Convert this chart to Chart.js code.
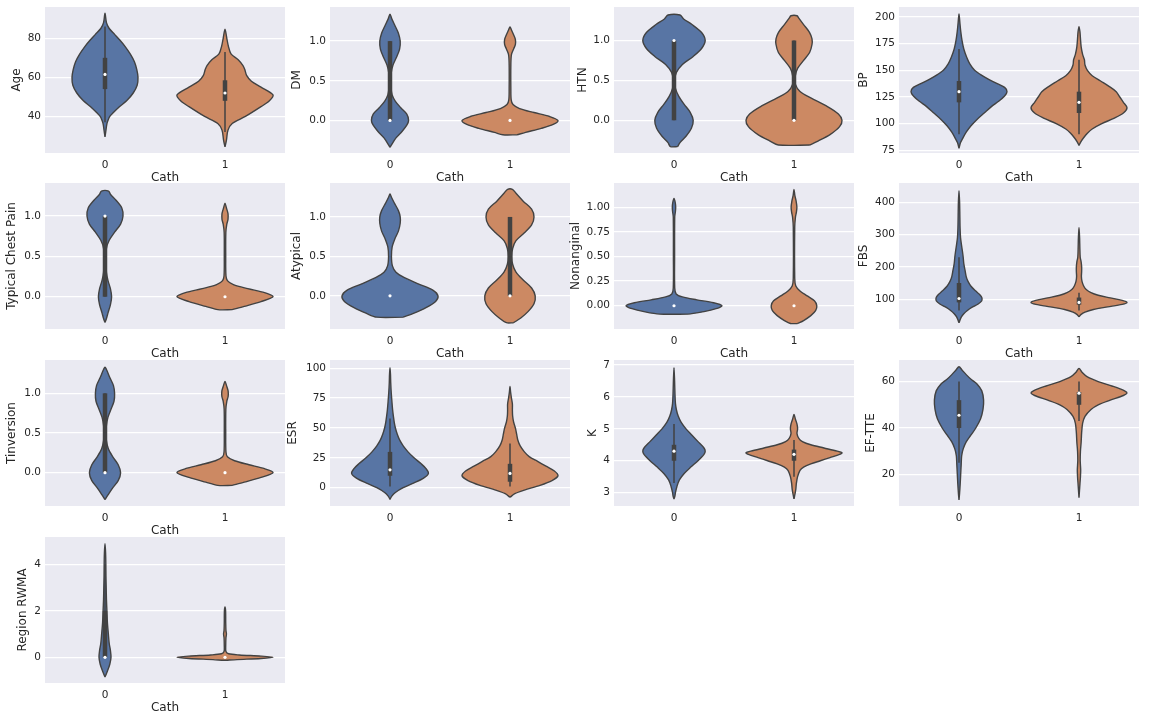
<!DOCTYPE html>
<html>
<head>
<meta charset="utf-8">
<script src="https://cdn.jsdelivr.net/npm/chart.js@4/dist/chart.umd.min.js"></script>
<style>
  body { margin: 0; background: #fff; width: 1157px; height: 721px; position: relative; overflow: hidden; }
  canvas { position: absolute; }
</style>
</head>
<body>
<script>
// categories on the x axis (Cath)
const cathValues = [0, 1];
const cathLabels = ['0', '1'];

// y tick values / labels
const ageTicks = [40, 60, 80];
const ageTickLabels = ['40', '60', '80'];
const binTicks = [0, 0.5, 1];
const binTickLabels = ['0.0', '0.5', '1.0'];
const quarterTicks = [0, 0.25, 0.5, 0.75, 1];
const quarterTickLabels = ['0.00', '0.25', '0.50', '0.75', '1.00'];
const bpTicks = [75, 100, 125, 150, 175, 200];
const bpTickLabels = ['75', '100', '125', '150', '175', '200'];
const fbsTicks = [100, 200, 300, 400];
const fbsTickLabels = ['100', '200', '300', '400'];
const esrTicks = [0, 25, 50, 75, 100];
const esrTickLabels = ['0', '25', '50', '75', '100'];
const kTicks = [3, 4, 5, 6, 7];
const kTickLabels = ['3', '4', '5', '6', '7'];
const efTicks = [20, 40, 60];
const efTickLabels = ['20', '40', '60'];
const rwTicks = [0, 2, 4];
const rwTickLabels = ['0', '2', '4'];

// violin outlines: [value, half width] from bottom to top
// inner boxes: [whisker low, q1, median, q3, whisker high]
const ageV0 = [[29.5,0],[33,0.008],[36,0.015],[38,0.025],[40,0.04],[42,0.07],[45,0.12],[48,0.18],[52,0.235],[56,0.268],[60,0.275],[64,0.265],[68,0.245],[72,0.21],[76,0.165],[79,0.125],[82,0.08],[85,0.035],[88,0.012],[92.8,0]];
const ageV1 = [[24.4,0],[27.9,0.012],[33,0.025],[36.4,0.06],[40,0.17],[45,0.3],[48,0.37],[51,0.4],[55,0.3],[58,0.22],[61,0.18],[64,0.165],[66,0.15],[69,0.11],[72,0.05],[76,0.028],[80,0.015],[84.6,0]];
const ageBox0 = [37, 54, 61.5, 70, 86];
const ageBox1 = [32, 48, 52, 58.5, 73];

const dmV0 = [[-0.34,0],[-0.3,0.015],[-0.22,0.05],[-0.14,0.1],[-0.06,0.14],[0,0.155],[0.08,0.14],[0.16,0.09],[0.24,0.045],[0.32,0.018],[0.42,0.008],[0.5,0.006],[0.6,0.01],[0.7,0.025],[0.8,0.055],[0.9,0.08],[1.0,0.085],[1.1,0.07],[1.2,0.04],[1.28,0.015],[1.34,0]];
const dmV1 = [[-0.18,0.06],[-0.15,0.13],[-0.1,0.26],[-0.05,0.36],[0,0.4],[0.05,0.33],[0.1,0.2],[0.15,0.08],[0.2,0.025],[0.26,0.01],[0.4,0.007],[0.7,0.007],[0.83,0.012],[0.9,0.03],[0.96,0.045],[1.02,0.045],[1.08,0.03],[1.14,0.012],[1.18,0]];
const dmBox0 = [0, 0, 0, 1, 1];
const dmBox1 = [0, 0, 0, 0, 0];

const htnV0 = [[-0.33,0.03],[-0.28,0.05],[-0.2,0.1],[-0.1,0.145],[0,0.16],[0.1,0.135],[0.2,0.085],[0.3,0.04],[0.4,0.012],[0.5,0.006],[0.6,0.02],[0.7,0.07],[0.8,0.16],[0.9,0.23],[1.0,0.26],[1.1,0.23],[1.2,0.15],[1.27,0.08],[1.32,0.05]];
const htnV1 = [[-0.31,0.13],[-0.26,0.2],[-0.18,0.3],[-0.08,0.38],[0,0.4],[0.08,0.37],[0.18,0.27],[0.28,0.14],[0.36,0.05],[0.45,0.012],[0.55,0.01],[0.65,0.03],[0.75,0.08],[0.85,0.13],[0.95,0.15],[1.02,0.15],[1.1,0.13],[1.2,0.08],[1.28,0.04],[1.31,0.025]];
const htnBox0 = [0, 0, 1, 1, 1];
const htnBox1 = [0, 0, 0, 1, 1];

const bpV0 = [[77,0],[82,0.012],[86,0.03],[92,0.06],[98,0.1],[104,0.15],[110,0.21],[116,0.27],[121,0.33],[126,0.38],[130,0.4],[134,0.38],[138,0.31],[142,0.24],[146,0.18],[150,0.13],[156,0.09],[162,0.065],[170,0.04],[178,0.025],[186,0.015],[195,0.007],[203,0]];
const bpV1 = [[79.7,0],[83,0.015],[87,0.04],[91,0.07],[95,0.11],[100,0.19],[105,0.29],[110,0.37],[115,0.4],[120,0.37],[125,0.34],[130,0.31],[135,0.25],[140,0.18],[145,0.11],[150,0.07],[155,0.05],[160,0.045],[165,0.03],[172,0.018],[180,0.012],[186,0.008],[191,0]];
const bpBox0 = [90, 120, 130, 140, 170];
const bpBox1 = [90, 110, 120, 130, 160];

const tcpV0 = [[-0.32,0],[-0.27,0.012],[-0.2,0.025],[-0.1,0.045],[0,0.055],[0.1,0.045],[0.2,0.025],[0.3,0.012],[0.45,0.007],[0.6,0.012],[0.7,0.035],[0.8,0.08],[0.9,0.13],[1.0,0.15],[1.1,0.14],[1.2,0.09],[1.27,0.045],[1.31,0.03]];
const tcpV1 = [[-0.16,0.06],[-0.12,0.16],[-0.06,0.3],[0,0.4],[0.05,0.33],[0.1,0.19],[0.15,0.07],[0.2,0.02],[0.26,0.008],[0.5,0.006],[0.8,0.007],[0.9,0.015],[0.96,0.025],[1.03,0.025],[1.1,0.012],[1.16,0]];
const tcpBox0 = [0, 0, 1, 1, 1];
const tcpBox1 = [0, 0, 0, 0, 0];

const atV0 = [[-0.27,0.11],[-0.22,0.2],[-0.15,0.3],[-0.07,0.38],[0,0.4],[0.07,0.36],[0.15,0.24],[0.23,0.12],[0.3,0.05],[0.38,0.02],[0.5,0.012],[0.62,0.018],[0.72,0.04],[0.82,0.07],[0.92,0.085],[1.0,0.085],[1.08,0.07],[1.18,0.035],[1.25,0.012],[1.29,0]];
const atV1 = [[-0.34,0.03],[-0.28,0.09],[-0.2,0.15],[-0.1,0.2],[0,0.21],[0.1,0.18],[0.2,0.11],[0.3,0.05],[0.4,0.022],[0.5,0.015],[0.6,0.022],[0.7,0.05],[0.8,0.12],[0.9,0.18],[1.0,0.2],[1.1,0.18],[1.2,0.11],[1.3,0.05],[1.35,0.02]];
const atBox0 = [0, 0, 0, 0, 0];
const atBox1 = [0, 0, 0, 1, 1];

const naV0 = [[-0.085,0.12],[-0.06,0.25],[-0.03,0.35],[0,0.4],[0.03,0.33],[0.06,0.19],[0.09,0.07],[0.12,0.018],[0.18,0.006],[0.5,0.005],[0.9,0.006],[0.96,0.012],[1.0,0.014],[1.05,0.01],[1.09,0]];
const naV1 = [[-0.18,0.03],[-0.15,0.08],[-0.1,0.14],[-0.05,0.18],[0,0.19],[0.05,0.17],[0.1,0.11],[0.15,0.05],[0.2,0.015],[0.28,0.006],[0.8,0.006],[0.9,0.012],[0.95,0.02],[1.0,0.024],[1.06,0.018],[1.12,0.007],[1.18,0]];
const naBox0 = [0, 0, 0, 0, 0];
const naBox1 = [0, 0, 0, 0, 0];

const fbsV0 = [[27,0],[35,0.008],[45,0.02],[55,0.04],[65,0.07],[75,0.11],[85,0.16],[95,0.19],[105,0.19],[115,0.17],[125,0.14],[140,0.1],[155,0.075],[170,0.06],[190,0.05],[210,0.04],[230,0.035],[250,0.028],[270,0.02],[290,0.013],[320,0.009],[360,0.007],[400,0.005],[436,0]];
const fbsV1 = [[45,0],[52,0.015],[60,0.05],[68,0.12],[76,0.24],[84,0.36],[90,0.4],[96,0.36],[104,0.26],[112,0.16],[120,0.1],[130,0.06],[140,0.04],[155,0.025],[170,0.02],[185,0.022],[200,0.022],[215,0.018],[230,0.01],[260,0.007],[290,0.005],[322,0]];
const fbsBox0 = [65, 90, 102, 150, 230];
const fbsBox1 = [65, 83, 90, 105, 120];

const tiV0 = [[-0.34,0],[-0.28,0.025],[-0.2,0.06],[-0.1,0.11],[0,0.13],[0.1,0.11],[0.2,0.065],[0.3,0.028],[0.4,0.012],[0.5,0.008],[0.6,0.012],[0.7,0.025],[0.8,0.05],[0.9,0.075],[1.0,0.08],[1.1,0.07],[1.2,0.04],[1.3,0.012],[1.33,0]];
const tiV1 = [[-0.16,0.06],[-0.12,0.16],[-0.06,0.3],[0,0.4],[0.05,0.33],[0.1,0.2],[0.15,0.08],[0.2,0.02],[0.26,0.008],[0.5,0.006],[0.8,0.007],[0.9,0.015],[0.96,0.026],[1.03,0.026],[1.1,0.012],[1.15,0]];
const tiBox0 = [0, 0, 0, 1, 1];
const tiBox1 = [0, 0, 0, 0, 0];

const esrV0 = [[-9.7,0],[-7,0.015],[-4,0.045],[0,0.11],[4,0.2],[8,0.28],[12,0.32],[16,0.3],[20,0.26],[25,0.2],[30,0.15],[35,0.11],[40,0.08],[45,0.06],[50,0.045],[55,0.035],[60,0.028],[65,0.022],[72,0.016],[80,0.01],[88,0.006],[95,0.004],[100.5,0]];
const esrV1 = [[-8,0],[-5,0.04],[-2,0.12],[2,0.25],[6,0.35],[10,0.4],[14,0.37],[18,0.3],[22,0.23],[26,0.16],[30,0.12],[35,0.085],[40,0.065],[45,0.055],[50,0.045],[55,0.03],[60,0.022],[65,0.02],[70,0.02],[75,0.012],[80,0.005],[84.7,0]];
const esrBox0 = [1, 10, 15, 30, 58];
const esrBox1 = [1, 5, 12, 20, 37];

const kV0 = [[2.8,0],[2.9,0.008],[3.0,0.012],[3.2,0.025],[3.4,0.045],[3.6,0.085],[3.8,0.14],[4.0,0.2],[4.2,0.25],[4.3,0.26],[4.4,0.25],[4.6,0.2],[4.8,0.15],[5.0,0.1],[5.2,0.06],[5.4,0.035],[5.6,0.02],[5.8,0.012],[6.1,0.008],[6.5,0.005],[6.92,0]];
const kV1 = [[2.8,0],[2.95,0.008],[3.1,0.015],[3.3,0.02],[3.5,0.03],[3.7,0.05],[3.8,0.08],[3.9,0.14],[4.0,0.22],[4.1,0.3],[4.2,0.38],[4.25,0.4],[4.3,0.36],[4.4,0.25],[4.5,0.14],[4.6,0.07],[4.7,0.04],[4.85,0.025],[5.0,0.03],[5.15,0.025],[5.3,0.012],[5.45,0]];
const kBox0 = [3.3, 4.0, 4.3, 4.5, 5.15];
const kBox1 = [3.5, 4.0, 4.2, 4.35, 4.65];

const efV0 = [[9,0],[12,0.005],[16,0.01],[20,0.014],[24,0.018],[28,0.022],[31,0.035],[34,0.06],[37,0.1],[40,0.14],[44,0.18],[48,0.2],[52,0.205],[56,0.19],[59,0.15],[61,0.1],[63,0.06],[65,0.025],[66.4,0]];
const efV1 = [[10,0],[13,0.004],[16,0.008],[19,0.012],[22,0.014],[26,0.01],[30,0.012],[34,0.018],[38,0.022],[42,0.03],[45,0.05],[48,0.1],[50,0.16],[52,0.26],[54,0.37],[55,0.4],[56,0.38],[58,0.28],[60,0.16],[62,0.07],[64,0.025],[65.7,0]];
const efBox0 = [25, 40, 45.5, 52, 60];
const efBox1 = [43, 50, 55, 55.5, 60];

const rwV0 = [[-0.85,0],[-0.6,0.02],[-0.3,0.04],[0,0.05],[0.3,0.045],[0.6,0.035],[1.0,0.028],[1.5,0.02],[2.0,0.016],[2.5,0.012],[3.0,0.01],[3.5,0.008],[4.0,0.007],[4.5,0.005],[4.9,0]];
const rwV1 = [[-0.13,0.01],[-0.1,0.1],[-0.05,0.3],[0,0.4],[0.05,0.3],[0.1,0.12],[0.15,0.03],[0.25,0.008],[0.5,0.006],[0.85,0.008],[1.0,0.012],[1.15,0.008],[1.5,0.006],[2.0,0.005],[2.17,0]];
const rwBox0 = [0, 0, 0, 2, 4];
const rwBox1 = [0, 0, 0, 0, 0];

const panels = [
  { label: 'Age', range: [21.3, 96], ticks: ageTicks, tickLabels: ageTickLabels, v: [ageV0, ageV1], box: [ageBox0, ageBox1] },
  { label: 'DM', range: [-0.41, 1.43], ticks: binTicks, tickLabels: binTickLabels, v: [dmV0, dmV1], box: [dmBox0, dmBox1] },
  { label: 'HTN', range: [-0.41, 1.42], ticks: binTicks, tickLabels: binTickLabels, v: [htnV0, htnV1], box: [htnBox0, htnBox1] },
  { label: 'BP', range: [72.5, 209.4], ticks: bpTicks, tickLabels: bpTickLabels, v: [bpV0, bpV1], box: [bpBox0, bpBox1] },
  { label: 'Typical Chest Pain', range: [-0.4, 1.41], ticks: binTicks, tickLabels: binTickLabels, v: [tcpV0, tcpV1], box: [tcpBox0, tcpBox1] },
  { label: 'Atypical', range: [-0.42, 1.43], ticks: binTicks, tickLabels: binTickLabels, v: [atV0, atV1], box: [atBox0, atBox1] },
  { label: 'Nonanginal', range: [-0.236, 1.246], ticks: quarterTicks, tickLabels: quarterTickLabels, v: [naV0, naV1], box: [naBox0, naBox1] },
  { label: 'FBS', range: [7.5, 460], ticks: fbsTicks, tickLabels: fbsTickLabels, v: [fbsV0, fbsV1], box: [fbsBox0, fbsBox1] },
  { label: 'Tinversion', range: [-0.42, 1.42], ticks: binTicks, tickLabels: binTickLabels, v: [tiV0, tiV1], box: [tiBox0, tiBox1] },
  { label: 'ESR', range: [-15.3, 106.9], ticks: esrTicks, tickLabels: esrTickLabels, v: [esrV0, esrV1], box: [esrBox0, esrBox1] },
  { label: 'K', range: [2.58, 7.16], ticks: kTicks, tickLabels: kTickLabels, v: [kV0, kV1], box: [kBox0, kBox1] },
  { label: 'EF-TTE', range: [6.4, 69.3], ticks: efTicks, tickLabels: efTickLabels, v: [efV0, efV1], box: [efBox0, efBox1] },
  { label: 'Region RWMA', range: [-1.11, 5.19], ticks: rwTicks, tickLabels: rwTickLabels, v: [rwV0, rwV1], box: [rwBox0, rwBox1] }
];

// layout (page pixels)
const colLeft = [45, 330, 614, 899];
const rowTop = [7, 183, 360, 537];
const plotW = 242, plotH = 146;
const axisW = 45, axisH = 31, padTop = 10, padRight = 2;
const yTitleCenter = [17, 12, 14, 10, 12, 12, 7, 10, 12, 8, 24, 16.6, 22.7];
const showCath = [true, true, true, true, true, true, true, true, true, false, false, false, true];

const FONT = 'DejaVu Sans';
const TXT = '#262626';
const LINE = '#424242';
const COLORS = ['#5875A4', '#CC8963'];
const TICK_SIZE = 10.5, TITLE_SIZE = 12;

const bgPlugin = {
  id: 'bg',
  beforeDraw(chart) {
    const { ctx, chartArea: a } = chart;
    ctx.save();
    ctx.fillStyle = '#EAEAF2';
    ctx.fillRect(a.left, a.top, a.right - a.left, a.bottom - a.top);
    ctx.restore();
  }
};

function outline(prof, c) {
  const pts = [];
  prof.forEach(p => pts.push({ x: c + p[1], y: p[0] }));
  prof.slice().reverse().forEach(p => pts.push({ x: c - p[1], y: p[0] }));
  pts.push({ x: c + prof[0][1], y: prof[0][0] });
  // drop repeated points (pointed tips)
  return pts.filter((p, i) => i === 0 || p.x !== pts[i - 1].x || p.y !== pts[i - 1].y);
}

panels.forEach((p, i) => {
  const col = i % 4, row = Math.floor(i / 4);
  const cv = document.createElement('canvas');
  const w = axisW + plotW + padRight, h = padTop + plotH + axisH;
  cv.width = w; cv.height = h;
  cv.style.width = w + 'px'; cv.style.height = h + 'px';
  cv.style.left = (colLeft[col] - axisW) + 'px';
  cv.style.top = (rowTop[row] - padTop) + 'px';
  document.body.appendChild(cv);

  const datasets = [];
  cathValues.forEach((c, k) => {
    const b = p.box[k];
    datasets.push({
      data: outline(p.v[k], c),
      backgroundColor: COLORS[k], borderColor: LINE, borderWidth: 1.4,
      fill: 'shape', tension: 0.3, pointRadius: 0, borderJoinStyle: 'round', order: 3
    });
    datasets.push({
      data: [{ x: c, y: b[0] }, { x: c, y: b[4] }],
      borderColor: LINE, borderWidth: 1.5, pointRadius: 0, fill: false, order: 2
    });
    datasets.push({
      data: [{ x: c, y: b[1] }, { x: c, y: b[3] }],
      borderColor: LINE, borderWidth: 4.5, borderCapStyle: 'butt', pointRadius: 0, fill: false, order: 1
    });
    datasets.push({
      data: [{ x: c, y: b[2] }],
      showLine: false, pointRadius: 1.6, pointBackgroundColor: '#ffffff', pointBorderWidth: 0, order: 0
    });
  });

  new Chart(cv, {
    type: 'line',
    data: { datasets },
    plugins: [bgPlugin],
    options: {
      responsive: false,
      animation: false,
      events: [],
      layout: { padding: { top: padTop, right: padRight, left: 0, bottom: 0 } },
      plugins: { legend: { display: false }, tooltip: { enabled: false } },
      scales: {
        x: {
          type: 'linear', min: -0.5, max: 1.5,
          afterBuildTicks: s => { s.ticks = cathValues.map(v => ({ value: v })); },
          afterFit: s => { s.height = axisH; s.paddingLeft = 0; s.paddingRight = 0; },
          grid: { display: false },
          border: { display: false },
          ticks: { autoSkip: false, maxRotation: 0, padding: -2, color: TXT, font: { family: FONT, size: TICK_SIZE },
                   callback: (v, idx) => cathLabels[idx] },
          title: { display: showCath[i], text: 'Cath', color: TXT, padding: 0,
                   font: { family: FONT, size: TITLE_SIZE, lineHeight: 1 } }
        },
        y: {
          type: 'linear', min: p.range[0], max: p.range[1],
          afterBuildTicks: s => { s.ticks = p.ticks.map(v => ({ value: v })); },
          afterFit: s => { s.width = axisW; s.paddingTop = 0; s.paddingBottom = 0; },
          grid: { color: '#ffffff', lineWidth: 1.3, drawTicks: false },
          border: { display: false },
          ticks: { autoSkip: false, padding: 4, color: TXT, font: { family: FONT, size: TICK_SIZE },
                   callback: (v, idx) => p.tickLabels[idx] },
          title: { display: true, text: p.label, color: TXT,
                   padding: { top: Math.max(0, yTitleCenter[i] - TITLE_SIZE / 2), bottom: 0 },
                   font: { family: FONT, size: TITLE_SIZE, lineHeight: 1 } }
        }
      }
    }
  });
});
</script>
</body>
</html>
